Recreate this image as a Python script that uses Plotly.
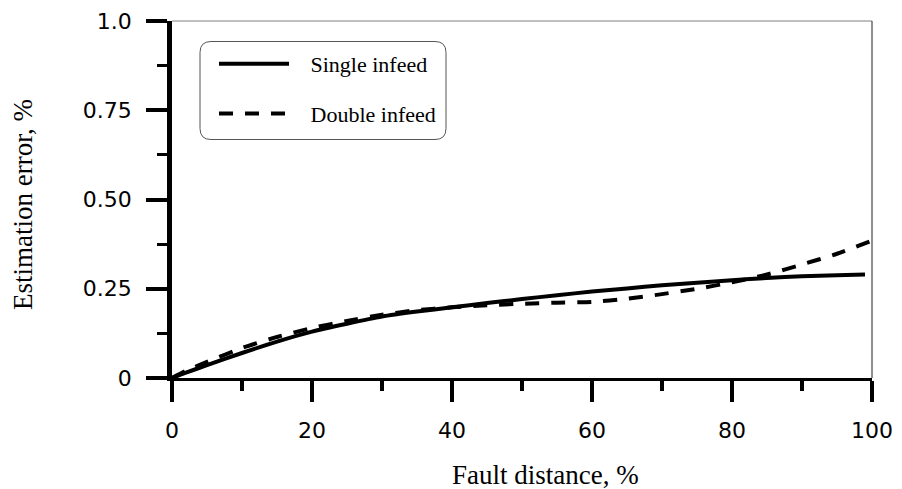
import plotly.graph_objects as go

# Fault distance (% of line length) and estimation error (%)
x_single = [0, 2, 5, 10, 15, 20, 25, 30, 35, 40, 45, 50, 55, 60, 65, 70, 75, 80, 85, 90, 95, 99]
err_single = [0, 0.015, 0.036, 0.070, 0.102, 0.130, 0.152, 0.172, 0.186, 0.198, 0.210, 0.221,
              0.232, 0.242, 0.251, 0.260, 0.267, 0.274, 0.280, 0.285, 0.288, 0.290]

x_double = [0, 2, 5, 10, 15, 20, 25, 30, 35, 40, 45, 50, 55, 60, 65, 70, 75, 80, 85, 90, 95, 100]
err_double = [0, 0.020, 0.045, 0.084, 0.115, 0.140, 0.160, 0.177, 0.190, 0.198, 0.204, 0.208,
              0.211, 0.213, 0.222, 0.235, 0.250, 0.268, 0.290, 0.318, 0.348, 0.385]

x_ticks = [0, 20, 40, 60, 80, 100]
x_minor = [10, 30, 50, 70, 90]
y_ticks = [0, 0.25, 0.5, 0.75, 1.0]
y_ticktext = ["0", "0.25", "0.50", "0.75", "1.0"]
y_minor = [0.125, 0.375, 0.625, 0.875]

SERIF = "Liberation Serif"
SANS = "DejaVu Sans"
GAP = "\u00a0\u00a0\u00a0"  # spacing between legend sample and label

fig = go.Figure()
fig.add_trace(go.Scatter(
    x=x_single, y=err_single, mode="lines", name=GAP + "Single infeed",
    line=dict(color="black", width=4, shape="spline", smoothing=0.6),
    legendgroup="a",
))
fig.add_trace(go.Scatter(
    x=x_double, y=err_double, mode="lines", name=GAP + "Double infeed",
    line=dict(color="black", width=4, dash="14px,12px", shape="spline", smoothing=0.6),
    legendgroup="b",
))

# Rounded legend frame (paper coordinates)
L, R = (200 - 172) / 700, (446 - 172) / 700
T, B = (378 - 41.5) / 357, (378 - 139.5) / 357
rx, ry = 11 / 700, 11 / 357
frame = (f"M{L+rx},{T} L{R-rx},{T} Q{R},{T} {R},{T-ry} L{R},{B+ry} Q{R},{B} {R-rx},{B} "
         f"L{L+rx},{B} Q{L},{B} {L},{B+ry} L{L},{T-ry} Q{L},{T} {L+rx},{T} Z")

fig.update_layout(
    width=902, height=489,
    margin=dict(l=172, r=30, t=21, b=111, autoexpand=False),
    paper_bgcolor="white", plot_bgcolor="white",
    showlegend=True,
    legend=dict(
        x=(214 - 172) / 700, y=(378 - 43) / 357, xanchor="left", yanchor="top",
        bgcolor="rgba(0,0,0,0)", borderwidth=0,
        font=dict(family=SERIF, size=22, color="black"),
        itemwidth=70, tracegroupgap=18,
    ),
    xaxis=dict(
        range=[0, 100], showgrid=False, zeroline=False, automargin=False,
        showline=True, linecolor="black", linewidth=3,
        tickmode="array", tickvals=x_ticks,
        ticks="outside", ticklen=21, tickwidth=3.5, tickcolor="black",
        minor=dict(tickmode="array", tickvals=x_minor, ticks="outside",
                   ticklen=10, tickwidth=3.5, tickcolor="black"),
        tickfont=dict(family=SANS, size=22, color="black"),
        ticklabelstandoff=10,
    ),
    yaxis=dict(
        range=[0, 1], showgrid=False, zeroline=False, automargin=False,
        showline=True, linecolor="black", linewidth=4.5,
        tickmode="array", tickvals=y_ticks, ticktext=y_ticktext,
        ticks="outside", ticklen=21, tickwidth=3.5, tickcolor="black",
        minor=dict(tickmode="array", tickvals=y_minor, ticks="outside",
                   ticklen=10, tickwidth=3, tickcolor="black"),
        tickfont=dict(family=SANS, size=22, color="black"),
        ticklabelstandoff=10,
    ),
    shapes=[
        dict(type="line", xref="paper", yref="paper", x0=0, x1=1, y0=1, y1=1,
             line=dict(color="#808080", width=1)),
        dict(type="line", xref="paper", yref="paper", x0=1, x1=1, y0=0, y1=1,
             line=dict(color="#202020", width=1)),
        dict(type="path", xref="paper", yref="paper", path=frame,
             line=dict(color="#555555", width=1)),
    ],
    annotations=[
        dict(text="Fault distance, %", xref="paper", yref="paper",
             x=(545 - 172) / 700, y=(378 - 475) / 357, xanchor="center", yanchor="middle",
             showarrow=False, font=dict(family=SERIF, size=27, color="black")),
        dict(text="Estimation error, %", xref="paper", yref="paper", textangle=-90,
             x=(23 - 172) / 700, y=(378 - 205) / 357, xanchor="center", yanchor="middle",
             showarrow=False, font=dict(family=SERIF, size=27, color="black")),
    ],
)

fig.write_html("out.html")
